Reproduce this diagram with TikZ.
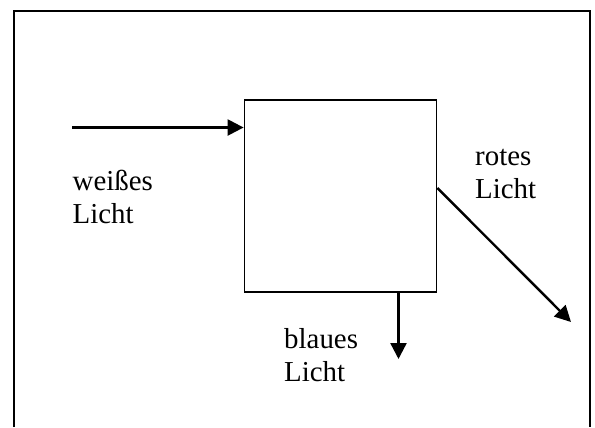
\documentclass[tikz,border=0pt]{standalone}
\usepackage{fontspec}
\setmainfont{Liberation Serif}
\usetikzlibrary{arrows.meta}
\begin{document}
\begin{tikzpicture}[x=1bp,y=-1bp,
  frameline/.style={line width=2bp},
  ray/.style={line width=2.4bp,-{Triangle[length=16bp,width=16bp]}},
  label/.style={anchor=base west,inner sep=0pt,align=left,
    font=\fontsize{29}{33}\selectfont}]
  \useasboundingbox (0,0) rectangle (595,427);
  % open frame
  \draw[frameline] (14,427) -- (14,10.5) -- (589.7,10.5) -- (589.7,427);
  % the box
  \node[draw,line width=1.8bp,minimum width=192bp,minimum height=192bp,inner sep=0pt]
    (box) at (340.5,196) {};
  % incoming and outgoing light
  \coordinate (src) at (72,127.5);
  \coordinate (redfrom) at (box.east |- 0,188);
  \coordinate (redto) at (571,322);
  \coordinate (bluefrom) at (box.south -| 398.5,0);
  \coordinate (blueto) at (398.5,359);
  \draw[ray] (src) -- (src -| box.west);
  \draw[ray] (redfrom) -- (redto);
  \draw[ray] (bluefrom) -- (blueto);
  % labels (anchored on the baseline of the last line)
  \node[label] (white) at (72.5,223) {weißes\\Licht};
  \node[label] (red) at (475,198) {rotes\\Licht};
  \node[label] (blue) at (284,381.5) {blaues\\Licht};
\end{tikzpicture}
\end{document}
